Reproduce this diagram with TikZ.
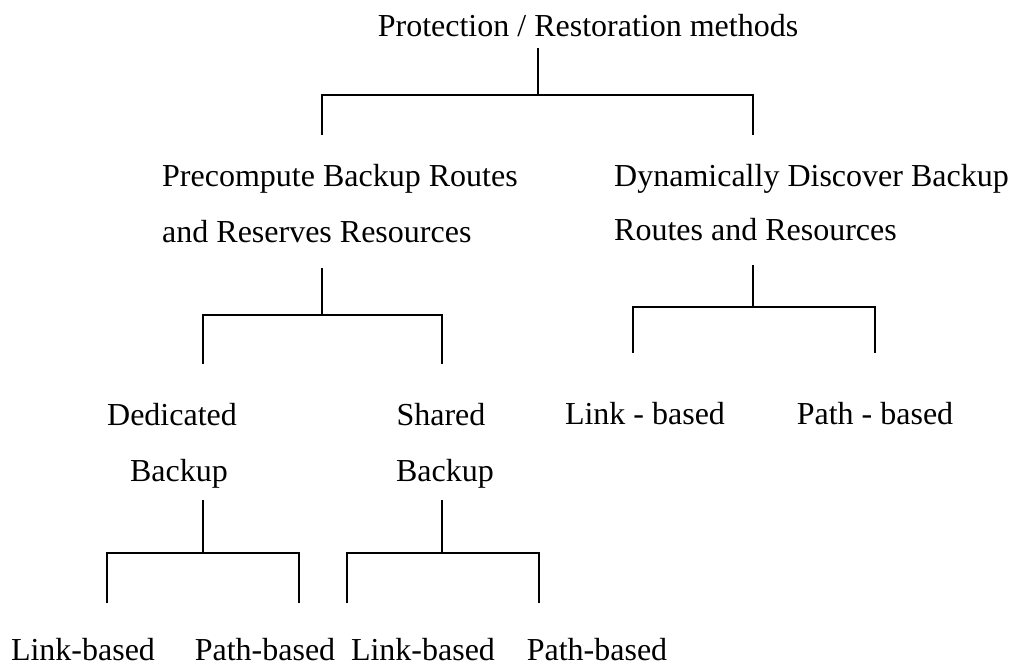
\documentclass[tikz,border=0pt]{standalone}
\usepackage{fontspec}
\setmainfont{Liberation Serif}
\begin{document}
\begin{tikzpicture}[x=1pt,y=-1pt,
  lbl/.style={inner sep=0pt,anchor=base,font=\fontsize{32}{38}\selectfont},
  lbll/.style={lbl,anchor=base west},
  ln/.style={line width=1.6pt}]
\useasboundingbox (0,0) rectangle (1014,665);
% texts
\node[lbl] (title) at (588,36) {Protection / Restoration methods};
\node[lbll] (pre1) at (162,186) {Precompute Backup Routes};
\node[lbll] (pre2) at (162,242) {and Reserves Resources};
\node[lbll] (dyn1) at (614,186) {Dynamically Discover Backup};
\node[lbll] (dyn2) at (614,240) {Routes and Resources};
\node[lbl] (ded1) at (172,425) {Dedicated};
\node[lbl] (ded2) at (179,481) {Backup};
\node[lbl] (sh1) at (441,425) {Shared};
\node[lbl] (sh2) at (445,481) {Backup};
\node[lbl] (lb) at (645,424) {Link - based};
\node[lbl] (pb) at (875,424) {Path - based};
\node[lbl] (dl) at (83,660) {Link-based};
\node[lbl] (dp) at (265,660) {Path-based};
\node[lbl] (sl) at (423,660) {Link-based};
\node[lbl] (sp) at (597,660) {Path-based};
% junction coordinates
\coordinate (t0) at (538,48); \coordinate (t1) at (538,95);
\coordinate (tl) at (322,95); \coordinate (tr) at (753,95);
\coordinate (tld) at (322,135); \coordinate (trd) at (753,135);
\coordinate (p0) at (322,268); \coordinate (p1) at (322,315);
\coordinate (pl) at (203,315); \coordinate (pr) at (442,315);
\coordinate (pld) at (203,364); \coordinate (prd) at (442,364);
\coordinate (d0) at (753,265); \coordinate (d1) at (753,307);
\coordinate (dl0) at (633,307); \coordinate (dr0) at (875,307);
\coordinate (dld) at (633,353); \coordinate (drd) at (875,353);
\coordinate (e0) at (203,500); \coordinate (e1) at (203,553);
\coordinate (el) at (107,553); \coordinate (er) at (299,553);
\coordinate (eld) at (107,603); \coordinate (erd) at (299,603);
\coordinate (s0) at (442,500); \coordinate (s1) at (442,553);
\coordinate (sl0) at (347,553); \coordinate (sr0) at (539,553);
\coordinate (sld) at (347,603); \coordinate (srd) at (539,603);
% connectors
\draw[ln] (t0) -- (t1);
\draw[ln] (tld) -- (tl) -- (tr) -- (trd);
\draw[ln] (p0) -- (p1);
\draw[ln] (pld) -- (pl) -- (pr) -- (prd);
\draw[ln] (d0) -- (d1);
\draw[ln] (dld) -- (dl0) -- (dr0) -- (drd);
\draw[ln] (e0) -- (e1);
\draw[ln] (eld) -- (el) -- (er) -- (erd);
\draw[ln] (s0) -- (s1);
\draw[ln] (sld) -- (sl0) -- (sr0) -- (srd);
\end{tikzpicture}
\end{document}
